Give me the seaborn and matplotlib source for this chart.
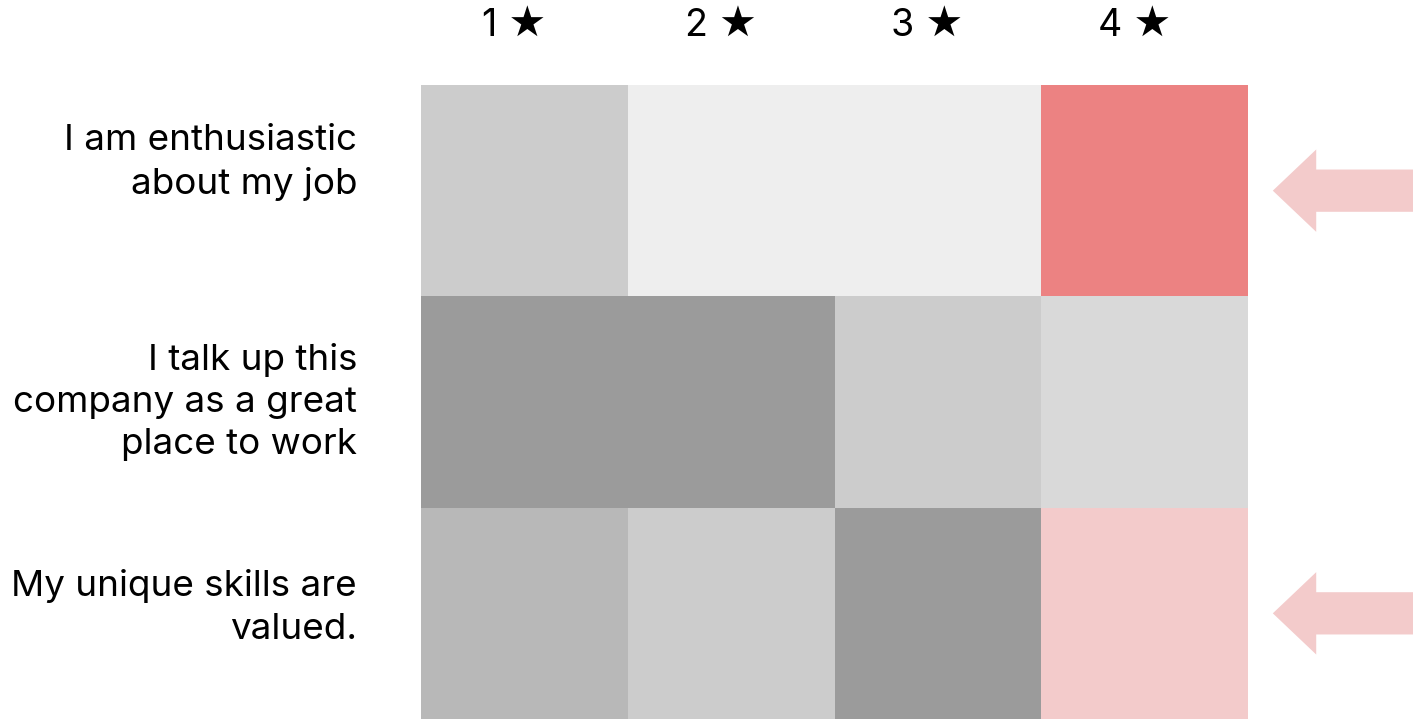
import numpy as np
import seaborn as sns
import matplotlib.pyplot as plt
from matplotlib.colors import ListedColormap
from matplotlib.transforms import ScaledTranslation

# survey statements and star ratings
statements = ['I am enthusiastic\nabout my job',
              'I talk up this\ncompany as a great\nplace to work',
              'My unique skills are\nvalued.']
ratings = ['1 ★', '2 ★', '3 ★', '4 ★']

# shade level of each cell (1 = lightest, 5 = darkest)
row_enthusiastic = [3, 1, 1, 4]
row_talk_up = [5, 5, 3, 2]
row_skills = [4, 3, 5, 2]

# cells called out in red
highlight_enthusiastic = [False, False, False, True]
highlight_talk_up = [False, False, False, False]
highlight_skills = [False, False, False, True]

levels = np.array([row_enthusiastic, row_talk_up, row_skills])
highlight = np.array([highlight_enthusiastic, highlight_talk_up, highlight_skills])

grays = ListedColormap(['#eeeeee', '#d9d9d9', '#cccccc', '#b8b8b8', '#9b9b9b'])
reds = ListedColormap(['#f7dada', '#f3cbcb', '#f0a8a8', '#ec8282', '#e56060'])

sns.set_style('white')
plt.rcParams['font.family'] = ['Inter', 'DejaVu Sans']
plt.rcParams['text.color'] = 'black'

fig = plt.figure(figsize=(14.13, 7.19), dpi=100)
ax = fig.add_axes([421 / 1413, 0, 827 / 1413, 634 / 719])

sns.heatmap(levels, mask=highlight, cmap=grays, vmin=0.5, vmax=5.5,
            cbar=False, ax=ax, xticklabels=ratings, yticklabels=statements)
sns.heatmap(levels, mask=~highlight, cmap=reds, vmin=0.5, vmax=5.5,
            cbar=False, ax=ax, xticklabels=ratings, yticklabels=statements)

ax.xaxis.tick_top()
ax.tick_params(axis='x', length=0, pad=30, labelsize=27, labelcolor='black')
ax.tick_params(axis='y', length=0, pad=46, labelsize=26.5, labelcolor='black')
plt.setp(ax.get_yticklabels(), rotation=0, ha='right', va='center', linespacing=1.36)
plt.setp(ax.get_xticklabels(), rotation=0)
for s in ax.spines.values():
    s.set_visible(False)

# small vertical nudges of the row labels (pixels, up is positive)
nudge = [28, 0, 6]
for lab, dy in zip(ax.get_yticklabels(), nudge):
    lab.set_transform(lab.get_transform() + ScaledTranslation(0, dy / 100, fig.dpi_scale_trans))
for lab in ax.get_xticklabels():
    lab.set_transform(lab.get_transform() + ScaledTranslation(-10 / 100, 0, fig.dpi_scale_trans))

# pointer arrows next to highlighted rows
for r in np.where(highlight.any(axis=1))[0]:
    ax.arrow(4.8, r + 0.5, -0.68, 0, width=0.2, head_width=0.39,
             head_length=0.21, length_includes_head=True, clip_on=False,
             color='#f3cbcb', lw=0)

fig.savefig('out.png', dpi=100)
